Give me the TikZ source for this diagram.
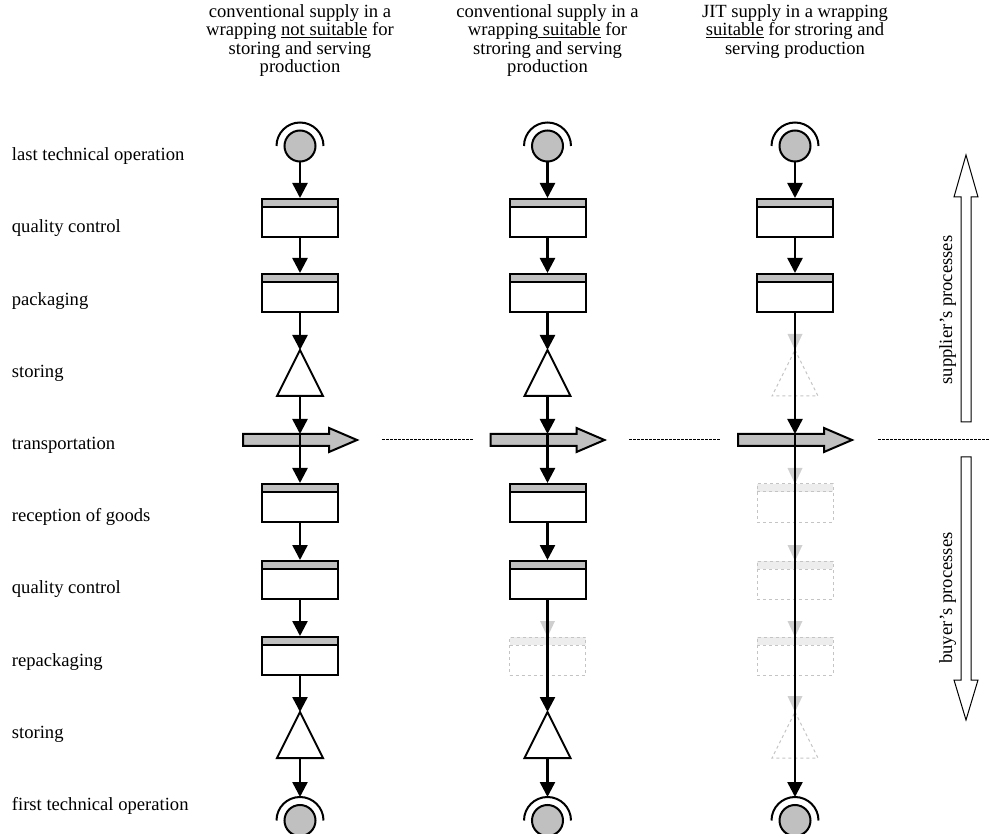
\documentclass[tikz,border=0pt]{standalone}
\usepackage{fontspec}
\setmainfont{Liberation Serif}
\usetikzlibrary{arrows.meta}
\definecolor{silv}{HTML}{C0C0C0}
\definecolor{ghostline}{HTML}{C4C4C4}
\definecolor{ghostfill}{HTML}{EDEDED}
\definecolor{ghosthead}{HTML}{CFCFCF}
\tikzset{
  txt/.style={font=\fontsize{18.6pt}{18.5pt}\selectfont, inner sep=0pt},
  lbl/.style={txt, anchor=base west},
  hdr/.style={txt, anchor=base},
  flow/.style={line width=2.5pt, -{Triangle[length=15pt,width=15pt]}},
  thru/.style={line width=2.5pt},
  procbox/.style={rectangle, draw, line width=2pt, fill=white,
    minimum width=76pt, minimum height=38pt, inner sep=0pt,
    path picture={
      \fill[silv] (path picture bounding box.north west) rectangle ([yshift=-8pt]path picture bounding box.north east);
      \draw[line width=2pt] ([yshift=-8pt]path picture bounding box.north west) -- ([yshift=-8pt]path picture bounding box.north east);
    }},
  ghostboxshape/.style={rectangle, draw=ghostline, dashed, line width=1pt, fill=white,
    minimum width=76pt, minimum height=38pt, inner sep=0pt,
    path picture={
      \fill[ghostfill] (path picture bounding box.north west) rectangle ([yshift=-8pt]path picture bounding box.north east);
      \draw[ghostline, dashed, line width=1pt] ([yshift=-8pt]path picture bounding box.north west) -- ([yshift=-8pt]path picture bounding box.north east);
    }},
  endcirc/.style={circle, draw, line width=2pt, fill=silv, minimum size=31pt, inner sep=0pt},
  sidearrow/.style={draw, line width=1pt, fill=white},
  sep/.style={line width=1pt, dash pattern=on 2.5pt off 1.5pt},
  sidelbl/.style={txt, rotate=90, anchor=base},
  opcirc/.pic={
    \node[endcirc] (-c) at (0,0) {};
    \draw[line width=2pt] (23.5pt,0) arc[start angle=0, end angle=180, radius=23.5pt];
    \coordinate (-arc) at (0,-23.5);
  },
  storetri/.pic={
    \draw[line width=2pt, fill=white, line join=miter] (0,0) -- (23,46) -- (-23,46) -- cycle;
    \coordinate (-top) at (0,0);
    \coordinate (-bot) at (0,46);
  },
  ghosttri/.pic={
    \fill[ghosthead] (-7.5,-16) -- (7.5,-16) -- (0,0) -- cycle;
    \draw[ghostline, dashed, line width=1pt] (0,0) -- (23,46) -- (-23,46) -- cycle;
    \coordinate (-top) at (0,0);
    \coordinate (-bot) at (0,46);
  },
  ghostbox/.pic={
    \fill[ghosthead] (-7.5,-35) -- (7.5,-35) -- (0,-19) -- cycle;
    \node[ghostboxshape] (-b) at (0,0) {};
  },
  transport/.pic={
    \draw[line width=2pt, fill=silv] (-57,-6) -- (29,-6) -- (29,-12) -- (57,0) -- (29,12) -- (29,6) -- (-57,6) -- cycle;
    \coordinate (-top) at (0,-6);
    \coordinate (-bot) at (0,6);
  }
}
\begin{document}
\begin{tikzpicture}[x=1pt,y=-1pt]
\useasboundingbox (0,0) rectangle (989,834);

% headers
\node[hdr] (h1a) at (300,17.5) {conventional supply in a};
\node[hdr] (h1b) at (300,36) {wrapping \underline{not suitable} for};
\node[hdr] (h1c) at (300,54.5) {storing and serving};
\node[hdr] (h1d) at (300,73) {production};
\node[hdr] (h2a) at (547.5,17.5) {conventional supply in a};
\node[hdr] (h2b) at (547.5,36) {wrapping\underline{\ suitable} for};
\node[hdr] (h2c) at (547.5,54.5) {stroring and serving};
\node[hdr] (h2d) at (547.5,73) {production};
\node[hdr] (h3a) at (795,17.5) {JIT supply in a wrapping};
\node[hdr] (h3b) at (795,36) {\underline{suitable} for stroring and};
\node[hdr] (h3c) at (795,54.5) {serving production};

% row labels
\node[lbl] (r0) at (11.7,160.7) {last technical operation};
\node[lbl] (r1) at (11.7,232.9) {quality control};
\node[lbl] (r2) at (11.7,305.1) {packaging};
\node[lbl] (r3) at (11.7,377.3) {storing};
\node[lbl] (r4) at (11.7,449.5) {transportation};
\node[lbl] (r5) at (11.7,521.7) {reception of goods};
\node[lbl] (r6) at (11.7,593.9) {quality control};
\node[lbl] (r7) at (11.7,666.1) {repackaging};
\node[lbl] (r8) at (11.7,738.3) {storing};
\node[lbl] (r9) at (11.7,810.5) {first technical operation};

% ---------- column 1 ----------
\pic (a0) at (300,146) {opcirc};
\node[procbox] (a1) at (300,218) {};
\node[procbox] (a2) at (300,293) {};
\pic (a3) at (300,350) {storetri};
\pic (a4) at (300,440) {transport};
\node[procbox] (a5) at (300,503) {};
\node[procbox] (a6) at (300,580) {};
\node[procbox] (a7) at (300,656) {};
\pic (a8) at (300,712) {storetri};
\pic (a9) at (300,820.5) {opcirc};
\draw[flow] (a0-c) -- (a1);
\draw[flow] (a1) -- (a2);
\draw[flow] (a2) -- (a3-top);
\draw[flow] (a3-bot) -- (a4-top);
\draw[thru] (a4-top) -- (a4-bot);
\draw[flow] (a4-bot) -- (a5);
\draw[flow] (a5) -- (a6);
\draw[flow] (a6) -- (a7);
\draw[flow] (a7) -- (a8-top);
\draw[flow] (a8-bot) -- (a9-arc);

% ---------- column 2 ----------
\pic (b0) at (547.5,146) {opcirc};
\node[procbox] (b1) at (547.5,218) {};
\node[procbox] (b2) at (547.5,293) {};
\pic (b3) at (547.5,350) {storetri};
\pic (b4) at (547.5,440) {transport};
\node[procbox] (b5) at (547.5,503) {};
\node[procbox] (b6) at (547.5,580) {};
\pic (b7) at (547.5,656) {ghostbox};
\pic (b8) at (547.5,712) {storetri};
\pic (b9) at (547.5,820.5) {opcirc};
\draw[flow] (b0-c) -- (b1);
\draw[flow] (b1) -- (b2);
\draw[flow] (b2) -- (b3-top);
\draw[flow] (b3-bot) -- (b4-top);
\draw[thru] (b4-top) -- (b4-bot);
\draw[flow] (b4-bot) -- (b5);
\draw[flow] (b5) -- (b6);
\draw[flow] (b6) -- (b8-top);
\draw[flow] (b8-bot) -- (b9-arc);

% ---------- column 3 ----------
\pic (c0) at (795,146) {opcirc};
\node[procbox] (c1) at (795,218) {};
\node[procbox] (c2) at (795,293) {};
\pic (c3) at (795,350) {ghosttri};
\pic (c4) at (795,440) {transport};
\pic (c5) at (795,503) {ghostbox};
\pic (c6) at (795,580) {ghostbox};
\pic (c7) at (795,656) {ghostbox};
\pic (c8) at (795,712) {ghosttri};
\pic (c9) at (795,820.5) {opcirc};
\draw[flow] (c0-c) -- (c1);
\draw[flow] (c1) -- (c2);
\draw[flow] (c2) -- (c4-top);
\draw[thru] (c4-top) -- (c4-bot);
\draw[flow] (c4-bot) -- (c9-arc);

% dotted separators
\coordinate (s1a) at (382,440); \coordinate (s1b) at (473,440);
\coordinate (s2a) at (629,440); \coordinate (s2b) at (720,440);
\coordinate (s3a) at (878,440); \coordinate (s3b) at (989,440);
\draw[sep] (s1a) -- (s1b);
\draw[sep] (s2a) -- (s2b);
\draw[sep] (s3a) -- (s3b);

% side arrows
\draw[sidearrow] (961,422) -- (961,197) -- (954,197) -- (966,155) -- (978,197) -- (971,197) -- (971,422) -- cycle;
\draw[sidearrow] (961,457) -- (961,680) -- (954,680) -- (966,720) -- (978,680) -- (971,680) -- (971,457) -- cycle;
\node[sidelbl] (sup) at (952,310) {supplier’s processes};
\node[sidelbl] (buy) at (952,598) {buyer’s processes};
\end{tikzpicture}
\end{document}
